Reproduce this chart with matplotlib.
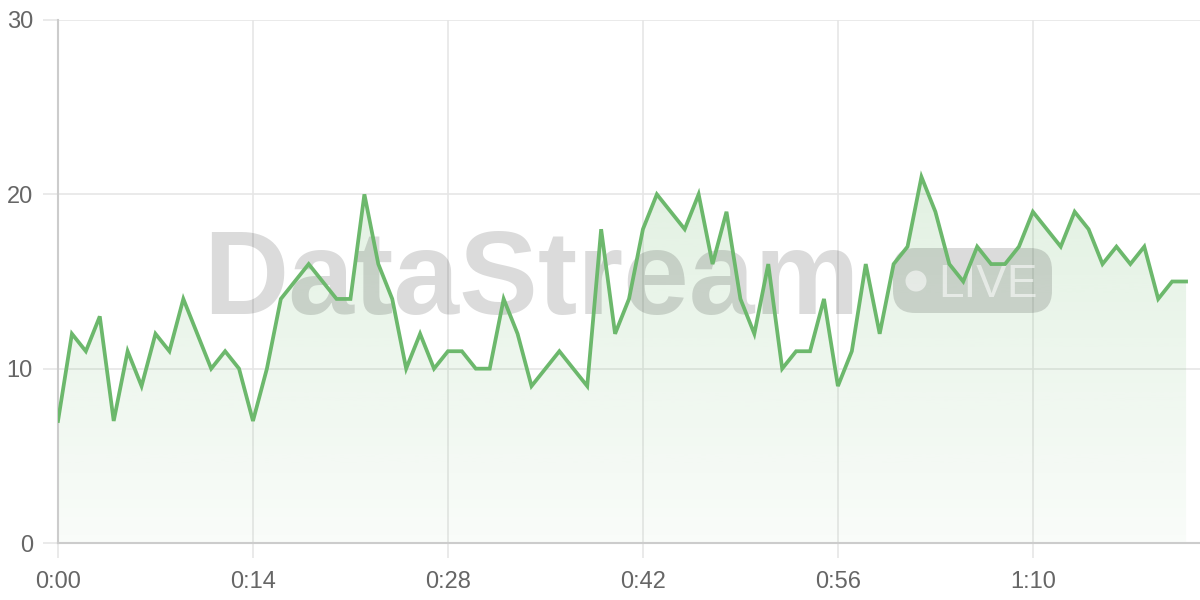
import numpy as np
import matplotlib
matplotlib.use("Agg")
import matplotlib.pyplot as plt
from matplotlib.patches import FancyBboxPatch, Circle, Polygon
from matplotlib.transforms import IdentityTransform
from matplotlib.ticker import FuncFormatter

# data: one sample per second
seconds = list(range(0, 82))
values = [7, 12, 11, 13, 7, 11, 9, 12, 11, 14,
          12, 10, 11, 10, 7, 10, 14, 15, 16, 15,
          14, 14, 20, 16, 14, 10, 12, 10, 11, 11,
          10, 10, 14, 12, 9, 10, 11, 10, 9, 18,
          12, 14, 18, 20, 19, 18, 20, 16, 19, 14,
          12, 16, 10, 11, 11, 14, 9, 11, 16, 12,
          16, 17, 21, 19, 16, 15, 17, 16, 16, 17,
          19, 18, 17, 19, 18, 16, 17, 16, 17, 14,
          15, 15]
x_ticks = [0, 14, 28, 42, 56, 70]
y_ticks = [0, 10, 20, 30]
watermark_text = "DataStream"
badge_text = "LIVE"

line_color = "#6cb86c"
grid_color = "#e6e6e6"
axis_color = "#cccccc"
label_color = "#666666"

plt.rcParams["font.family"] = ["Liberation Sans", "DejaVu Sans"]

fig = plt.figure(figsize=(12, 6), dpi=100)
ax = fig.add_axes([58 / 1200, 57 / 600, 1142 / 1200, 523 / 600])

ax.set_xlim(0, 82)
ax.set_ylim(0, 30)

# gradient fill under the line
x_arr = np.array(seconds)
y_arr = np.array(values)
y_top = y_arr.max()
grad = np.zeros((256, 1, 4))
rgb = matplotlib.colors.to_rgb(line_color)
grad[:, 0, 0] = rgb[0]
grad[:, 0, 1] = rgb[1]
grad[:, 0, 2] = rgb[2]
grad[:, 0, 3] = np.linspace(0.2, 0.04, 256)
img = ax.imshow(grad, extent=[x_arr[0], x_arr[-1], 0, y_top], aspect="auto",
                origin="upper", zorder=1)
verts = np.vstack([[x_arr[0], 0], np.column_stack([x_arr, y_arr]), [x_arr[-1], 0]])
clip = Polygon(verts, closed=True, facecolor="none", edgecolor="none", transform=ax.transData)
ax.add_patch(clip)
img.set_clip_path(clip)

ax.plot(x_arr, y_arr, color=line_color, linewidth=2.7, solid_joinstyle="miter", zorder=5)

# grid, spines, ticks
ax.set_xticks(x_ticks)
ax.set_yticks(y_ticks)
ax.xaxis.set_major_formatter(FuncFormatter(lambda v, p: "{}:{:02d}".format(int(v) // 60, int(v) % 60)))
ax.grid(True, color=grid_color, linewidth=1.2, zorder=0)
ax.set_axisbelow(True)
for side in ["top", "right"]:
    ax.spines[side].set_visible(False)
ax.spines["left"].set_color(axis_color)
ax.spines["bottom"].set_color(axis_color)
ax.spines["left"].set_linewidth(1.5)
ax.spines["bottom"].set_linewidth(1.5)
ax.tick_params(axis="both", colors=grid_color, width=1.2, length=11, labelsize=17,
               labelcolor=label_color)
ax.tick_params(axis="y", pad=7)
ax.tick_params(axis="x", pad=9)

# watermark, drawn under the line (pixel coordinates, origin bottom left)
px = IdentityTransform()
ax.text(203, 600 - 314, watermark_text, transform=px, fontsize=85, fontweight="bold",
        color="black", alpha=0.14, ha="left", va="baseline", zorder=3, clip_on=False)
badge = FancyBboxPatch((893, 600 - 313), 159, 65, boxstyle="round,pad=0,rounding_size=22",
                       transform=px, facecolor="black", edgecolor="none", alpha=0.14,
                       zorder=3, clip_on=False)
ax.add_patch(badge)
dot = Circle((916, 600 - 281), 10.5, transform=px, facecolor="white", edgecolor="none",
             alpha=0.55, zorder=4, clip_on=False)
ax.add_patch(dot)
ax.text(938, 600 - 297, badge_text, transform=px, fontsize=33, color="white", alpha=0.55,
        ha="left", va="baseline", zorder=4, clip_on=False)

fig.savefig("out.png", dpi=100)
